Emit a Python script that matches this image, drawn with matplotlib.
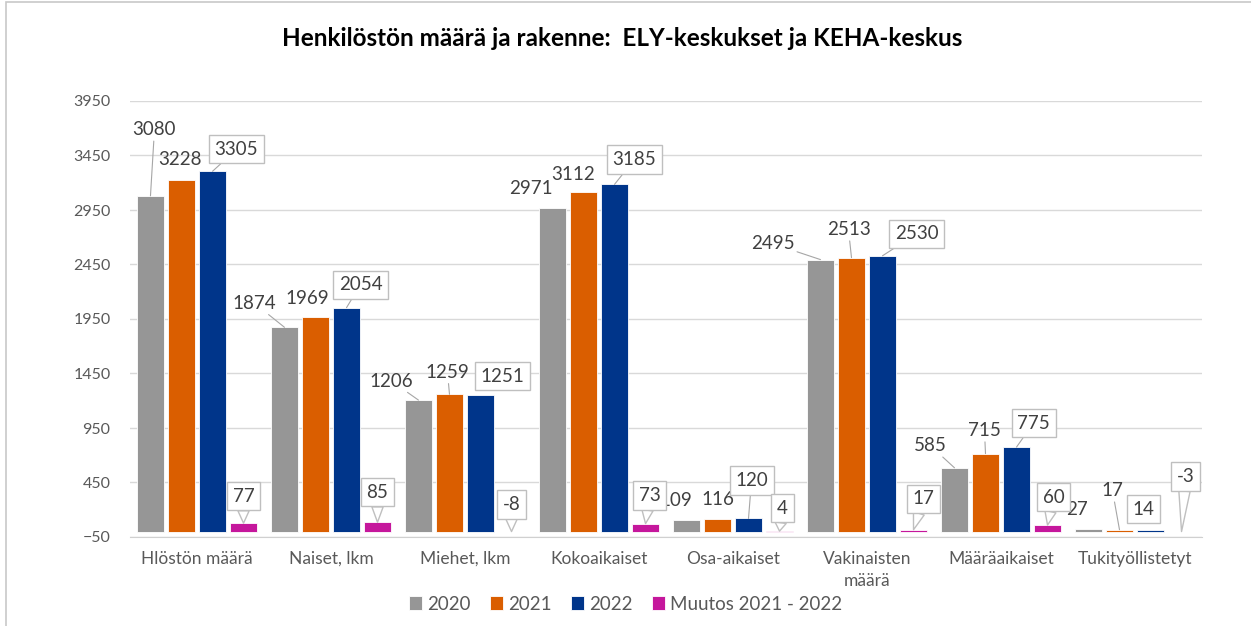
import numpy as np
import matplotlib
matplotlib.use('Agg')
import matplotlib.pyplot as plt
from matplotlib.patches import Rectangle

plt.rcParams['font.family'] = ['Lato', 'DejaVu Sans']

categories = ['Hlöstön määrä', 'Naiset, lkm', 'Miehet, lkm', 'Kokoaikaiset',
              'Osa-aikaiset', 'Vakinaisten\nmäärä', 'Määräaikaiset', 'Tukityöllistetyt']
series_names = ['2020', '2021', '2022', 'Muutos 2021 - 2022']
v2020 = [3080, 1874, 1206, 2971, 109, 2495, 585, 27]
v2021 = [3228, 1969, 1259, 3112, 116, 2513, 715, 17]
v2022 = [3305, 2054, 1251, 3185, 120, 2530, 775, 14]
muutos = [77, 85, -8, 73, 4, 17, 60, -3]

colors = ['#969696', '#DA5E00', '#00358A', '#C5179C']
text_col = '#404040'
axis_col = '#595959'

# label offsets in pixels from the bar top (dx, dy), and leader line flags
offsets = [
    [(4, 66), (-30, 24), (-27, 19), (-22, 19), (-11, 19), (-48, 16), (-24, 22), (-11, 19)],
    [(-2, 20), (-8, 18), (-2, 22), (-10, 18), (0, 19), (-3, 28), (-1, 23), (-7, 39)],
    [(24, 22), (14, 23), (22, 19), (20, 25), (3, 38), (34, 22), (17, 24), (-7, 21)],
    [(0, 27), (0, 30), (0, 27), (4, 28), (3, 23), (10, 31), (6, 28), (4, 55)],
]
leaders = [
    [1, 1, 1, 0, 0, 1, 1, 0],
    [0, 0, 1, 0, 0, 1, 1, 1],
    [1, 1, 0, 1, 1, 1, 1, 0],
]

fig = plt.figure(figsize=(12.51, 6.26), dpi=100)
ax = fig.add_axes([130 / 1251, 1 - 537 / 626, 1072 / 1251, 436 / 626])

x = np.arange(len(categories))
width = 0.2
step = 0.2315
all_vals = [v2020, v2021, v2022, muutos]
for j, vals in enumerate(all_vals):
    xs = x + (j - 1.5) * step
    ax.bar(xs, vals, width, color=colors[j], edgecolor='white', linewidth=0.6,
           label=series_names[j], zorder=2)
    for i, v in enumerate(vals):
        dx, dy = offsets[j][i]
        kw = dict(xy=(xs[i], max(v, 0)), xytext=(dx, dy), textcoords='offset pixels',
                  ha='center', va='center', fontsize=13.5, color=text_col, zorder=5)
        if j == 3:
            kw['bbox'] = dict(boxstyle='square,pad=0.3', fc='white', ec='#BFBFBF', lw=1)
            kw['arrowprops'] = dict(arrowstyle='wedge,tail_width=0.6', fc='white',
                                    ec='#BFBFBF', lw=1, shrinkA=0, shrinkB=0)
        else:
            if j == 2:
                kw['bbox'] = dict(boxstyle='square,pad=0.3', fc='white', ec='#BFBFBF', lw=1)
            if leaders[j][i]:
                kw['arrowprops'] = dict(arrowstyle='-', color='#A6A6A6', lw=0.8,
                                        shrinkA=0, shrinkB=0)
        ax.annotate(str(v), **kw)

ax.set_xlim(-0.5, len(categories) - 0.5)
ax.set_ylim(-50, 3950)
ax.set_yticks(np.arange(-50, 4000, 500))
ax.set_xticks(x)
ax.set_xticklabels(categories, fontsize=12.5, color=axis_col, linespacing=1.45)
ax.tick_params(axis='y', length=0, pad=14, labelsize=11.5, labelcolor=axis_col)
ax.tick_params(axis='x', length=0, pad=10)
ax.grid(axis='y', color='#D9D9D9', lw=1, zorder=0)
ax.set_axisbelow(True)
for s in ['top', 'right', 'left']:
    ax.spines[s].set_visible(False)
ax.spines['bottom'].set_color('#D0D0D0')

fig.text(0.497, 0.939, 'Henkilöstön määrä ja rakenne:  ELY-keskukset ja KEHA-keskus',
         ha='center', va='center', fontsize=17.5, fontweight='bold', color='black')

fig.legend(loc='center', bbox_to_anchor=(0.5, 1 - 604 / 626), ncol=4, frameon=False,
           fontsize=13.5, handlelength=0.7, handleheight=0.7, handletextpad=0.3,
           columnspacing=1.0, labelcolor=axis_col)

fig.patches.append(Rectangle((6 / 1251, -0.02), 1.05, 0.02 + 1 - 1.5 / 626,
                             transform=fig.transFigure, fill=False, ec='#C8C8C8', lw=1.2))

fig.savefig('out.png', dpi=100)
